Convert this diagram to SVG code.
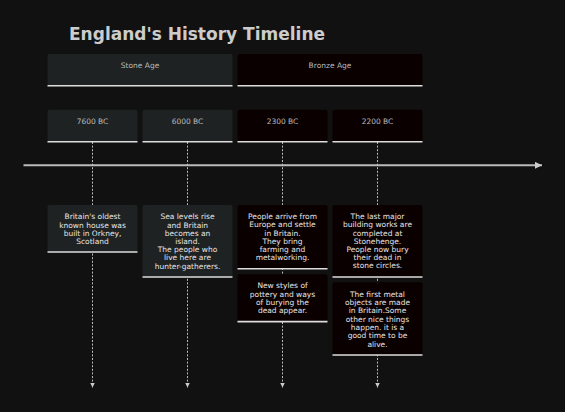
<svg xmlns="http://www.w3.org/2000/svg" width="565" height="412" viewBox="0 0 565 412">
<defs>
<style>
.bg{fill:#111111}
.stone{fill:#1f2222}
.bronze{fill:#0b0000}
.edge{stroke:#dddddd;stroke-width:1.6}
.hdr{font-family:"DejaVu Sans",Verdana,sans-serif;font-size:7.5px;fill:#bbbbbb;text-anchor:middle}
.ev{font-family:"DejaVu Sans",Verdana,sans-serif;font-size:7.5px;fill:#e6e6e6;text-anchor:middle}
.title{font-family:"DejaVu Sans",Verdana,sans-serif;font-size:17px;font-weight:bold;fill:#cccccc}
.dash{stroke:#bbbbbb;stroke-width:1;stroke-dasharray:2,1.6;fill:none}
</style>
<marker id="ah" viewBox="0 0 10 10" refX="10" refY="5" markerWidth="10" markerHeight="7" markerUnits="userSpaceOnUse" orient="auto">
<path d="M0,0 L10,5 L0,10 z" fill="#cccccc"/>
</marker>
<marker id="dh" viewBox="0 0 10 10" refX="10" refY="5" markerWidth="5" markerHeight="5" markerUnits="userSpaceOnUse" orient="auto">
<path d="M0,0 L10,5 L0,10 z" fill="#cccccc"/>
</marker>
</defs>
<rect class="bg" x="0" y="0" width="565" height="412"/>
<text class="title" x="69" y="40">England's History Timeline</text>

<g id="connectors">
<line x1="23.5" y1="165.3" x2="542" y2="165.3" stroke="#bbbbbb" stroke-width="2" marker-end="url(#ah)"/>
<line class="dash" x1="92.5" y1="142" x2="92.5" y2="387.5" marker-end="url(#dh)"/>
<line class="dash" x1="187.5" y1="142" x2="187.5" y2="387.5" marker-end="url(#dh)"/>
<line class="dash" x1="282.5" y1="142" x2="282.5" y2="387.5" marker-end="url(#dh)"/>
<line class="dash" x1="377.5" y1="142" x2="377.5" y2="387.5" marker-end="url(#dh)"/>
</g>

<g id="era-stone">
<rect class="stone" x="47.5" y="54" width="185" height="31.7" rx="2"/>
<line class="edge" x1="47.5" y1="85.7" x2="232.5" y2="85.7"/>
<text class="hdr" x="140" y="68">Stone Age</text>
</g>
<g id="era-bronze">
<rect class="bronze" x="237.5" y="54" width="185" height="31.7" rx="2"/>
<line class="edge" x1="237.5" y1="85.7" x2="422.5" y2="85.7"/>
<text class="hdr" x="330" y="68">Bronze Age</text>
</g>

<g id="year-7600">
<rect class="stone" x="47.5" y="109.7" width="90" height="32" rx="2"/>
<line class="edge" x1="47.5" y1="141.7" x2="137.5" y2="141.7"/>
<text class="hdr" x="92.5" y="124">7600 BC</text>
</g>
<g id="year-6000">
<rect class="stone" x="142.5" y="109.7" width="90" height="32" rx="2"/>
<line class="edge" x1="142.5" y1="141.7" x2="232.5" y2="141.7"/>
<text class="hdr" x="187.5" y="124">6000 BC</text>
</g>
<g id="year-2300">
<rect class="bronze" x="237.5" y="109.7" width="90" height="32" rx="2"/>
<line class="edge" x1="237.5" y1="141.7" x2="327.5" y2="141.7"/>
<text class="hdr" x="282.5" y="124">2300 BC</text>
</g>
<g id="year-2200">
<rect class="bronze" x="332.5" y="109.7" width="90" height="32" rx="2"/>
<line class="edge" x1="332.5" y1="141.7" x2="422.5" y2="141.7"/>
<text class="hdr" x="377.5" y="124">2200 BC</text>
</g>

<g id="event-7600">
<rect class="stone" x="47.5" y="205" width="90" height="47" rx="2"/>
<line class="edge" x1="47.5" y1="252" x2="137.5" y2="252"/>
<text class="ev" x="92.5" y="219.4">Britain's oldest<tspan x="92.5" dy="8.2">known house was</tspan><tspan x="92.5" dy="8.2">built in Orkney,</tspan><tspan x="92.5" dy="8.2">Scotland</tspan></text>
</g>
<g id="event-6000">
<rect class="stone" x="142.5" y="205" width="90" height="72" rx="2"/>
<line class="edge" x1="142.5" y1="277" x2="232.5" y2="277"/>
<text class="ev" x="187.5" y="219.4">Sea levels rise<tspan x="187.5" dy="8.2">and Britain</tspan><tspan x="187.5" dy="8.2">becomes an</tspan><tspan x="187.5" dy="8.2">island.</tspan><tspan x="187.5" dy="8.2">The people who</tspan><tspan x="187.5" dy="8.2">live here are</tspan><tspan x="187.5" dy="8.2">hunter-gatherers.</tspan></text>
</g>
<g id="event-2300a">
<rect class="bronze" x="237.5" y="205" width="90" height="63.8" rx="2"/>
<line class="edge" x1="237.5" y1="268.8" x2="327.5" y2="268.8"/>
<text class="ev" x="282.5" y="219.1">People arrive from<tspan x="282.5" dy="8.2">Europe and settle</tspan><tspan x="282.5" dy="8.2">in Britain.</tspan><tspan x="282.5" dy="8.2">They bring</tspan><tspan x="282.5" dy="8.2">farming and</tspan><tspan x="282.5" dy="8.2">metalworking.</tspan></text>
</g>
<g id="event-2300b">
<rect class="bronze" x="237.5" y="274.3" width="90" height="47.3" rx="2"/>
<line class="edge" x1="237.5" y1="321.6" x2="327.5" y2="321.6"/>
<text class="ev" x="282.5" y="288">New styles of<tspan x="282.5" dy="8.5">pottery and ways</tspan><tspan x="282.5" dy="8.3">of burying the</tspan><tspan x="282.5" dy="8.3">dead appear.</tspan></text>
</g>
<g id="event-2200a">
<rect class="bronze" x="332.5" y="205" width="90" height="72" rx="2"/>
<line class="edge" x1="332.5" y1="277" x2="422.5" y2="277"/>
<text class="ev" x="377.5" y="219.1">The last major<tspan x="377.5" dy="8.2">building works are</tspan><tspan x="377.5" dy="8.2">completed at</tspan><tspan x="377.5" dy="8.2">Stonehenge.</tspan><tspan x="377.5" dy="8.2">People now bury</tspan><tspan x="377.5" dy="8.2">their dead in</tspan><tspan x="377.5" dy="8.2">stone circles.</tspan></text>
</g>
<g id="event-2200b">
<rect class="bronze" x="332.5" y="282.3" width="90" height="72.7" rx="2"/>
<line class="edge" x1="332.5" y1="355" x2="422.5" y2="355"/>
<text class="ev" x="377.5" y="296.7">The first metal<tspan x="377.5" dy="8.3">objects are made</tspan><tspan x="377.5" dy="8.3">in Britain.Some</tspan><tspan x="377.5" dy="8.3">other nice things</tspan><tspan x="377.5" dy="8.3">happen. it is a</tspan><tspan x="377.5" dy="8.3">good time to be</tspan><tspan x="377.5" dy="8.3">alive.</tspan></text>
</g>
</svg>
